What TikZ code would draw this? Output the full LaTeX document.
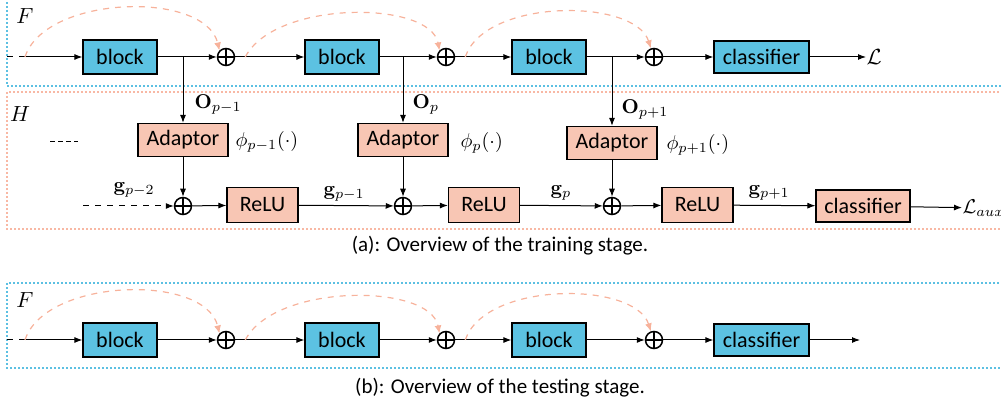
\documentclass[tikz,border=0pt]{standalone}
\usepackage{amsmath}
\usepackage{amsfonts}
\usepackage[no-math]{fontspec}
\setmainfont{Carlito}
\usepackage{tikz}
\usetikzlibrary{arrows.meta}

\definecolor{blockcyan}{RGB}{92,194,226}
\definecolor{adsalmon}{RGB}{248,198,180}
\definecolor{fline}{RGB}{92,192,226}
\definecolor{hline}{RGB}{248,184,164}
\definecolor{skipc}{RGB}{247,178,155}

\begin{document}
\begin{tikzpicture}[x=0.5pt, y=-0.5pt, >={Latex[length=4pt,width=3pt]}, line width=0.5pt,
		blk/.style = {draw, line width=0.6pt, fill=blockcyan, minimum width=37pt, minimum height=17pt, inner sep=0pt, font=\fontsize{11}{13}\selectfont},
		cls/.style = {blk, minimum width=47.5pt, minimum height=16pt},
		ada/.style = {blk, fill=adsalmon, minimum width=45pt, minimum height=16.5pt},
		relu/.style = {ada, minimum width=35.5pt, minimum height=17.5pt},
		cls2/.style = {ada, minimum width=47pt, minimum height=16pt},
		plus/.style = {draw, circle, line width=0.75pt, minimum size=8.5pt, inner sep=0pt, path picture={\draw[line width=0.7pt] (path picture bounding box.north) -- (path picture bounding box.south) (path picture bounding box.west) -- (path picture bounding box.east);}},
		skip/.style = {draw=skipc, dashed, line width=0.6pt, -{Latex[length=4pt,width=3.5pt,fill=skipc]}},
		frame/.style = {line width=1pt, dash pattern=on 1pt off 1pt},
		lbl/.style = {inner sep=0pt, font=\fontsize{10.5}{12}\selectfont},
		mlbl/.style = {lbl, anchor=west, font=\fontsize{10}{12}\selectfont}]
	\useasboundingbox (0,0) rectangle (1001,410);

	% training stage: main network F
	\draw[frame, draw=fline] (7,-10) rectangle (1020,86);
	\node[lbl] (F) at (25,16) {$F$};
	\coordinate (in0) at (7,57);
	\coordinate (in1) at (25,57);
	\node[blk] (b1) at (120,57) {block};
	\node[plus] (p1) at (226,57) {};
	\node[blk] (b2) at (342,57) {block};
	\node[plus] (p2) at (446,57) {};
	\node[blk] (b3) at (549,57) {block};
	\node[plus] (p3) at (654,57) {};
	\node[cls] (c1) at (761.5,57) {classifier};
	\node[lbl, anchor=west] (L) at (866,57) {$\mathcal{L}$};

	\draw[dashed] (in0) -- (in1);
	\draw[->] (in1) -- (b1);
	\draw[->] (b1) -- (p1);
	\draw[->] (p1) -- (b2);
	\draw[->] (b2) -- (p2);
	\draw[->] (p2) -- (b3);
	\draw[->] (b3) -- (p3);
	\draw[->] (p3) -- (c1);
	\draw[->] (c1) -- (L);
	\draw[skip] (in1) .. controls (45,-5) and (205,-10) .. (p1.north west);
	\draw[skip] ([xshift=5pt]p1.east) .. controls (275,0) and (430,0) .. (p2.north west);
	\draw[skip] ([xshift=5pt]p2.east) .. controls (485,-2) and (635,-2) .. (p3.110);

	% training stage: auxiliary network H
	\draw[frame, draw=hline] (7,92) rectangle (1020,229);
	\node[lbl] (H) at (20,114) {$H$};
	\coordinate (s1) at (183,57);
	\coordinate (s2) at (403,57);
	\coordinate (s3) at (612,57);
	\node[ada] (a1) at (183,140) {Adaptor};
	\node[ada] (a2) at (403,140) {Adaptor};
	\node[ada] (a3) at (612,143) {Adaptor};
	\node[mlbl] (o1) at (194,105) {$\mathbf{O}_{p-1}$};
	\node[mlbl] (o2) at (412,105) {$\mathbf{O}_{p}$};
	\node[mlbl] (o3) at (621,110) {$\mathbf{O}_{p+1}$};
	\node[mlbl] (f1) at (235,142) {$\phi_{p-1}(\cdot)$};
	\node[mlbl] (f2) at (460,143) {$\phi_{p}(\cdot)$};
	\node[mlbl] (f3) at (666,145) {$\phi_{p+1}(\cdot)$};
	\coordinate (d0) at (50,142);
	\coordinate (d1) at (78,142);
	\draw[dash pattern=on 2.5pt off 1.5pt] (d0) -- (d1);

	\coordinate (gin) at (83,206);
	\node[plus] (q1) at (183,206) {};
	\node[relu] (r1) at (262.5,205) {ReLU};
	\node[plus] (q2) at (403,206) {};
	\node[relu] (r2) at (484,205) {ReLU};
	\node[plus] (q3) at (612,206) {};
	\node[relu] (r3) at (697.5,205) {ReLU};
	\node[cls2] (c2) at (863,206) {classifier};
	\node[mlbl] (La) at (962,208) {$\mathcal{L}_{aux}$};
	\node[mlbl] (g0) at (113,190) {$\mathbf{g}_{p-2}$};
	\node[mlbl] (g1) at (323,194) {$\mathbf{g}_{p-1}$};
	\node[mlbl] (g2) at (550,193) {$\mathbf{g}_{p}$};
	\node[mlbl] (g3) at (748,193) {$\mathbf{g}_{p+1}$};

	\draw[->] (s1) -- (a1);
	\draw[->] (s2) -- (a2);
	\draw[->] (s3) -- (a3);
	\draw[->] (a1) -- (q1);
	\draw[->] (a2) -- (q2);
	\draw[->] (a3) -- (q3);
	\draw[->, dashed] (gin) -- (q1);
	\draw[->] (q1) -- (r1);
	\draw[->] (r1) -- (q2);
	\draw[->] (q2) -- (r2);
	\draw[->] (r2) -- (q3);
	\draw[->] (q3) -- (r3);
	\draw[->] (r3) -- (c2);
	\draw[->] (c2) -- (La);

	\node[font=\fontsize{10.5}{12}\selectfont] (capa) at (500,246) {(a): Overview of the training stage.};

	% testing stage
	\draw[frame, draw=fline] (7,283) rectangle (1020,368);
	\node[lbl] (Ft) at (25,300) {$F$};
	\coordinate (tin0) at (7,340);
	\coordinate (tin1) at (25,340);
	\node[blk] (tb1) at (120,340) {block};
	\node[plus] (tp1) at (226,340) {};
	\node[blk] (tb2) at (342,340) {block};
	\node[plus] (tp2) at (446,340) {};
	\node[blk] (tb3) at (549,340) {block};
	\node[plus] (tp3) at (654,340) {};
	\node[cls] (tc1) at (761.5,340) {classifier};
	\coordinate (tout) at (860,340);

	\draw[dashed] (tin0) -- (tin1);
	\draw[->] (tin1) -- (tb1);
	\draw[->] (tb1) -- (tp1);
	\draw[->] (tp1) -- (tb2);
	\draw[->] (tb2) -- (tp2);
	\draw[->] (tp2) -- (tb3);
	\draw[->] (tb3) -- (tp3);
	\draw[->] (tp3) -- (tc1);
	\draw[->] (tc1) -- (tout);
	\draw[skip] (tin1) .. controls (45,278) and (205,273) .. (tp1.north west);
	\draw[skip] ([xshift=5pt]tp1.east) .. controls (275,283) and (430,283) .. (tp2.north west);
	\draw[skip] ([xshift=5pt]tp2.east) .. controls (485,281) and (635,281) .. (tp3.110);

	\node[font=\fontsize{10.5}{12}\selectfont] (capb) at (500,388) {(b): Overview of the testing stage.};
\end{tikzpicture}
\end{document}
